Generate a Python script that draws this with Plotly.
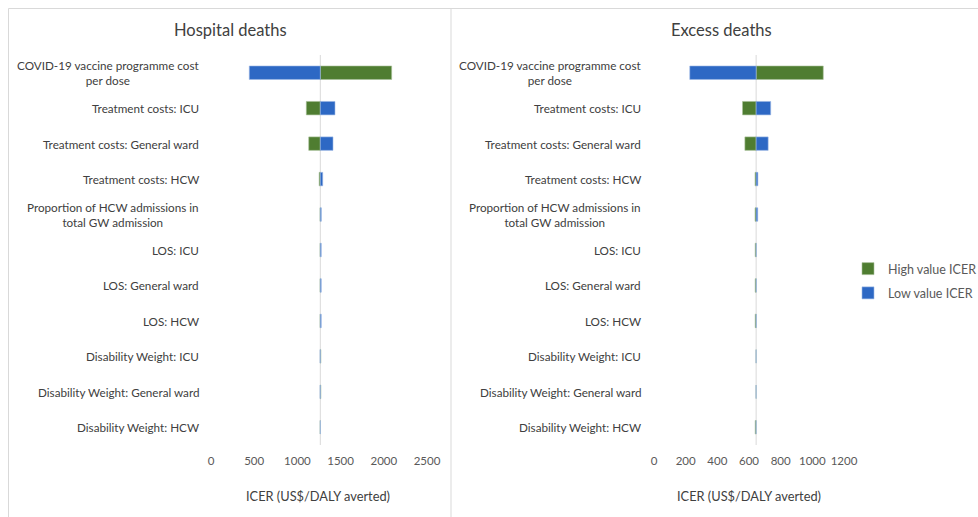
import plotly.graph_objects as go

W, H = 978, 517

categories = [
    "COVID-19 vaccine programme cost<br>per dose",
    "Treatment costs: ICU",
    "Treatment costs: General ward",
    "Treatment costs: HCW",
    "Proportion of HCW admissions in<br>total GW admission",
    "LOS: ICU",
    "LOS: General ward",
    "LOS: HCW",
    "Disability Weight: ICU",
    "Disability Weight: General ward",
    "Disability Weight: HCW",
]

hosp_base = 1265
hosp_high = [2091, 1103, 1131, 1252, 1262, 1263, 1263, 1263, 1272, 1272, 1264]
hosp_low = [443, 1435, 1412, 1293, 1277, 1276, 1276, 1276, 1262, 1262, 1266]

exc_base = 645
exc_high = [1069, 559, 574, 638, 638, 639, 639, 639, 645, 645, 639]
exc_low = [226, 737, 721, 656, 655, 646, 646, 646, 645, 645, 645]

hosp_ticks = [0, 500, 1000, 1500, 2000, 2500]
exc_ticks = [0, 200, 400, 600, 800, 1000, 1200]

panel_titles = ["Hospital deaths", "Excess deaths"]
axis_title = "ICER (US$/DALY averted)"
series_names = ["High value ICER", "Low value ICER"]

GREEN = "#4F7D31"
BLUE = "#2D68C4"
FONT = "Lato"

fig = go.Figure()

def px_x(p):
    return p / W

def px_y(p):
    return 1 - p / H

panels = [
    dict(xa="x", ya="y", base=hosp_base, high=hosp_high, low=hosp_low, show=True),
    dict(xa="x2", ya="y2", base=exc_base, high=exc_high, low=exc_low, show=False),
]

for p in panels:
    b = p["base"]
    fig.add_trace(go.Bar(
        y=categories, x=[v - b for v in p["high"]], base=b, orientation="h",
        name=series_names[0], marker=dict(color=GREEN, line=dict(color="#A9C19A", width=0.6)),
        width=0.38, xaxis=p["xa"], yaxis=p["ya"], showlegend=p["show"], legendgroup="high",
    ))
    fig.add_trace(go.Bar(
        y=categories, x=[v - b for v in p["low"]], base=b, orientation="h",
        name=series_names[1], marker=dict(color=BLUE, line=dict(color="#9DB8E6", width=0.6)),
        width=0.38, xaxis=p["xa"], yaxis=p["ya"], showlegend=p["show"], legendgroup="low",
    ))

ydom = [px_y(445), px_y(55)]
common_x = dict(showgrid=False, zeroline=False, showline=False, ticks="",
                ticklabelstandoff=7,
                tickfont=dict(family=FONT, size=11.5, color="#595959"))
common_y = dict(showgrid=False, zeroline=False, showline=False, showticklabels=False,
                type="category", categoryarray=categories, range=[10.5, -0.5], domain=ydom)

fig.update_layout(
    width=W, height=H, margin=dict(l=0, r=0, t=0, b=0, autoexpand=False), autosize=False,
    paper_bgcolor="white", plot_bgcolor="white",
    barmode="overlay",
    font=dict(family=FONT, color="#404040"),
    xaxis=dict(domain=[px_x(211), px_x(427)], range=[0, 2500], tickvals=hosp_ticks, **common_x),
    xaxis2=dict(domain=[px_x(654), px_x(844)], range=[0, 1200], tickvals=exc_ticks, **common_x),
    yaxis=dict(anchor="x", **common_y),
    yaxis2=dict(anchor="x2", **common_y),
    legend=dict(x=px_x(848), y=px_y(254), xanchor="left", yanchor="top",
                font=dict(family=FONT, size=12.5, color="#595959"),
                tracegroupgap=5, itemwidth=30, bgcolor="rgba(0,0,0,0)"),
)

shapes = []
for xa, b in (("x", hosp_base), ("x2", exc_base)):
    shapes.append(dict(type="line", xref=xa, yref=("y domain" if xa == "x" else "y2 domain"),
                       x0=b, x1=b, y0=0, y1=1, line=dict(color="#D9D9D9", width=1), layer="below"))
# panel borders
shapes.append(dict(type="line", xref="paper", yref="paper", x0=px_x(8.5), x1=px_x(8.5),
                   y0=0, y1=px_y(8.5), line=dict(color="#D9D9D9", width=1)))
shapes.append(dict(type="line", xref="paper", yref="paper", x0=px_x(451), x1=px_x(451),
                   y0=0, y1=px_y(8.5), line=dict(color="#D9D9D9", width=1)))
shapes.append(dict(type="line", xref="paper", yref="paper", x0=px_x(8.5), x1=1,
                   y0=px_y(8.5), y1=px_y(8.5), line=dict(color="#D9D9D9", width=1)))
fig.update_layout(shapes=shapes)

ann = []
for ya, xr in (("y", 201), ("y2", 643)):
    for c in categories:
        ann.append(dict(xref="paper", yref=ya, x=px_x(xr), y=c, text=c, showarrow=False,
                        xanchor="right", align="center",
                        font=dict(family=FONT, size=11.7, color="#404040")))
for t, xc in zip(panel_titles, (230, 721)):
    ann.append(dict(xref="paper", yref="paper", x=px_x(xc), y=px_y(30), text=t, showarrow=False,
                    xanchor="center", yanchor="middle", font=dict(family=FONT, size=16.5, color="#404040")))
for xc in (318, 749):
    ann.append(dict(xref="paper", yref="paper", x=px_x(xc), y=px_y(496), text=axis_title,
                    showarrow=False, xanchor="center", yanchor="middle",
                    font=dict(family=FONT, size=12.8, color="#404040")))
fig.update_layout(annotations=ann)

fig.write_html(
    "out.html",
    config={"responsive": False, "displayModeBar": False},
    post_script=(
        "document.body.style.margin='0';"
        "document.body.style.overflow='hidden';"
        "document.documentElement.style.overflow='hidden';"
    ),
)
